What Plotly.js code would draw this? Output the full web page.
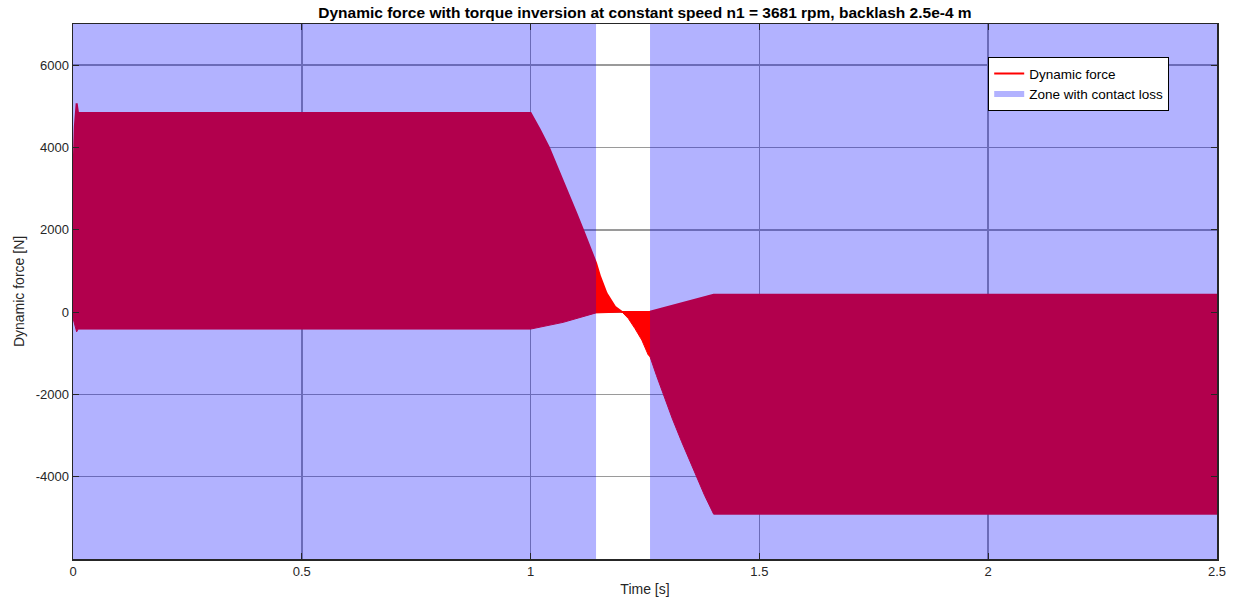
<!DOCTYPE html>
<html>
<head>
<meta charset="utf-8">
<script src="https://cdn.plot.ly/plotly-3.0.1.min.js"></script>
<style>html,body{margin:0;padding:0;background:#fff;}#chart{width:1237px;height:606px;}</style>
</head>
<body>
<div id="chart"></div>
<script>
// Upper envelope of the dynamic force oscillation
const timeUpper  = [0, 0.004, 0.008, 0.011, 1.0, 1.02, 1.04, 1.06, 1.08, 1.1, 1.1145, 1.13, 1.143, 1.152, 1.166, 1.1845, 1.2, 1.261, 1.40, 2.5];
const forceUpper = [3000, 4500, 5070, 4840, 4840, 4440, 4000, 3480, 2950, 2400, 2000, 1560, 1190, 860, 455, 130, 0, 10, 420, 420];
// Lower envelope of the dynamic force oscillation
const timeLower  = [0, 0.004, 0.008, 0.011, 1.0, 1.071, 1.143, 1.2, 1.2135, 1.228, 1.243, 1.2572, 1.261, 1.275, 1.290, 1.31, 1.33, 1.363, 1.38, 1.40, 2.5];
const forceLower = [-150, -300, -480, -413, -413, -250, -20, 0, -155, -400, -680, -1045, -1085, -1540, -2015, -2600, -3150, -4025, -4450, -4910, -4910];
// Zones with contact loss, [start, end] in s
const zoneStarts = [0, 1.261];
const zoneEnds   = [1.143, 2.5];
// Axis limits
const timeRange  = [0, 2.5];
const forceRange = [-6000, 7000];

const xTicks = [0, 0.5, 1, 1.5, 2, 2.5];
const xTickText = ['0', '0.5', '1', '1.5', '2', '2.5'];
const yTicks = [-4000, -2000, 0, 2000, 4000, 6000];
const yTickText = ['-4000', '-2000', '0', '2000', '4000', '6000'];

const red = '#FF0000';

// zone polygons built from the zone limits and the axis limits
const zoneX = [], zoneY = [];
zoneStarts.forEach((s, i) => {
  if (i > 0) { zoneX.push(null); zoneY.push(null); }
  zoneX.push(s, zoneEnds[i], zoneEnds[i], s, s);
  zoneY.push(forceRange[0], forceRange[0], forceRange[1], forceRange[1], forceRange[0]);
});

const traces = [
  {x: timeUpper, y: forceUpper, type: 'scatter', mode: 'lines', name: 'Dynamic force',
   line: {color: red, width: 2}, showlegend: true},
  {x: timeLower, y: forceLower, type: 'scatter', mode: 'lines', name: 'lower',
   line: {color: red, width: 1}, fill: 'tonexty', fillcolor: red, showlegend: false},
  {x: zoneX, y: zoneY, type: 'scatter', mode: 'none', name: 'Zone with contact loss',
   fill: 'toself', fillcolor: 'rgba(0,0,255,0.3)', showlegend: true, connectgaps: false}
];

const font = 'Liberation Sans, Arial, Helvetica, sans-serif';

const layout = {
  width: 1237, height: 606,
  margin: {l: 73, r: 20, t: 24, b: 47},
  paper_bgcolor: '#ffffff', plot_bgcolor: '#ffffff',
  font: {family: font, size: 13, color: '#262626'},
  title: {text: '<b>Dynamic force with torque inversion at constant speed n1 = 3681 rpm, backlash 2.5e-4 m</b>',
          font: {family: font, size: 15.5, color: '#000000'}, x: 0.5214, xanchor: 'center', y: 0.979, yanchor: 'middle'},
  xaxis: {range: timeRange, tickvals: xTicks, ticktext: xTickText, ticks: 'inside', ticklen: 6,
          tickcolor: '#262626', showgrid: true, gridcolor: '#9a9a9a', gridwidth: 1.5, zeroline: false,
          showline: true, linecolor: '#262626', linewidth: 1.5, mirror: 'ticks',
          title: {text: 'Time [s]', font: {size: 14, color: '#262626'}, standoff: 6}},
  yaxis: {range: forceRange, tickvals: yTicks, ticktext: yTickText, ticks: 'inside', ticklen: 6,
          tickcolor: '#262626', showgrid: true, gridcolor: '#9a9a9a', gridwidth: 1.5, zeroline: false,
          showline: true, linecolor: '#262626', linewidth: 1.5, mirror: 'ticks',
          title: {text: 'Dynamic force [N]', font: {size: 14, color: '#262626'}, standoff: 8}},
  showlegend: true,
  legend: {x: 0.8, xanchor: 'left', y: 0.938, yanchor: 'top', bgcolor: '#ffffff',
           bordercolor: '#000000', borderwidth: 1, font: {size: 13.5, color: '#000000'},
           tracegroupgap: 0, itemwidth: 30, traceorder: 'normal'}
};

Plotly.newPlot('chart', traces, layout, {displayModeBar: false, staticPlot: true});
</script>
</body>
</html>
